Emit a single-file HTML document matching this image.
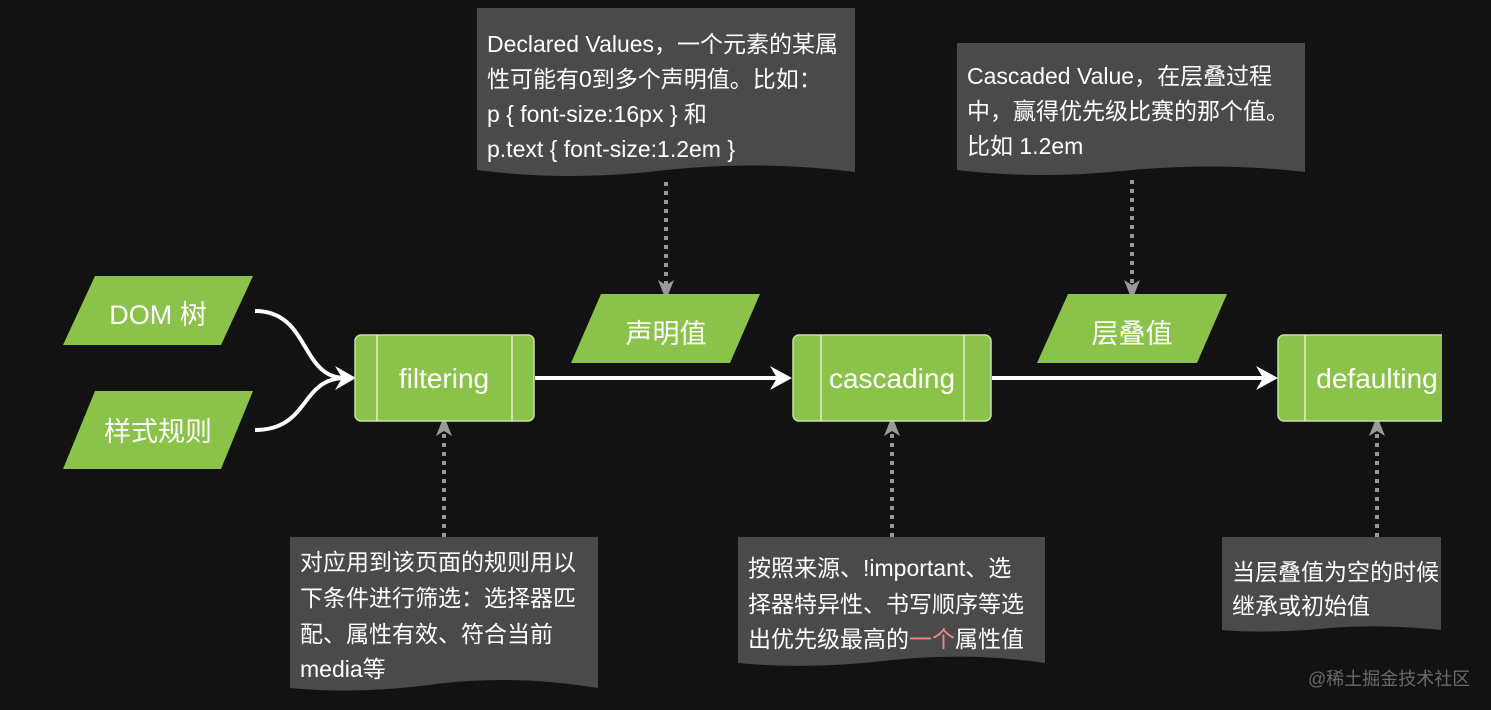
<!DOCTYPE html>
<html><head><meta charset="utf-8"><style>
html,body{margin:0;padding:0;background:#121212;}
svg{display:block}
text{font-family:"Liberation Sans","Noto Sans CJK SC",sans-serif;}
</style></head><body>
<svg width="1491" height="710" viewBox="0 0 1491 710" xmlns="http://www.w3.org/2000/svg">
<defs>
<marker id="ga" markerWidth="20" markerHeight="20" refX="10" refY="10" orient="auto" markerUnits="userSpaceOnUse"><path d="M0,2 L20,10 L0,18 L5,10z" fill="#999"/></marker>
</defs>
<rect width="1491" height="710" fill="#121212"/>
<g fill="#4a4a4a">
<path d="M477,8 H855 V172 Q760,160 666,170 Q570,182 477,170 Z"/>
<path d="M957,43 H1305 V172 Q1220,162 1132,170 Q1040,180 957,170 Z"/>
<path d="M290,537 H598 V688 Q520,675 444,683 Q360,695 290,688 Z"/>
<path d="M738,537 H1045 V663 Q970,652 892,660 Q810,670 738,663 Z"/>
<path d="M1222,537 H1441 V630 Q1380,624 1330,628 Q1270,634 1222,630 Z"/>
</g>
<g fill="#fff" font-size="23">
<text x="487" y="52">Declared Values，一个元素的某属</text>
<text x="487" y="87">性可能有0到多个声明值。比如：</text>
<text x="487" y="122">p { font-size:16px } 和</text>
<text x="487" y="157">p.text { font-size:1.2em }</text>
<text x="967" y="84">Cascaded Value，在层叠过程</text>
<text x="967" y="119">中，赢得优先级比赛的那个值。</text>
<text x="967" y="154">比如 1.2em</text>
<text x="300" y="570">对应用到该页面的规则用以</text>
<text x="300" y="606">下条件进行筛选：选择器匹</text>
<text x="300" y="642">配、属性有效、符合当前</text>
<text x="300" y="677">media等</text>
<text x="748" y="576">按照来源、!important、选</text>
<text x="748" y="612">择器特异性、书写顺序等选</text>
<text x="748" y="647">出优先级最高的<tspan fill="#e88">一个</tspan>属性值</text>
<text x="1232" y="580">当层叠值为空的时候</text>
<text x="1232" y="614">继承或初始值</text>
</g>
<g stroke="#999" stroke-width="4" stroke-dasharray="4,5" fill="none">
<line x1="666" y1="182" x2="666" y2="290" marker-end="url(#ga)"/>
<line x1="1132" y1="180" x2="1132" y2="290" marker-end="url(#ga)"/>
<line x1="444" y1="537" x2="444" y2="426" marker-end="url(#ga)"/>
<line x1="892" y1="537" x2="892" y2="426" marker-end="url(#ga)"/>
<line x1="1377" y1="537" x2="1377" y2="426" marker-end="url(#ga)"/>
</g>
<g stroke="#fff" stroke-width="4" fill="none">
<path d="M255,311 C310,311 300,378 345,378"/>
<path d="M255,430 C310,430 300,378 345,378"/>
<line x1="535" y1="378" x2="780" y2="378"/>
<line x1="992" y1="378" x2="1265" y2="378"/>
</g>
<g fill="#fff">
<path d="M335,366 L356,378 L335,390 L342,378z"/>
<path d="M770,366 L792,378 L770,390 L777,378z"/>
<path d="M1256,366 L1278,378 L1256,390 L1263,378z"/>
</g>
<g fill="#8bc34a">
<polygon points="95,276 253,276 221,345 63,345"/>
<polygon points="95,391 253,391 221,469 63,469"/>
<polygon points="601,294 760,294 730,363 571,363"/>
<polygon points="1068,294 1227,294 1197,363 1037,363"/>
</g>
<g fill="#fff" font-size="27" text-anchor="middle">
<text x="158" y="324">DOM 树</text>
<text x="158" y="441">样式规则</text>
<text x="666" y="343">声明值</text>
<text x="1132" y="343">层叠值</text>
</g>
<g fill="#8bc34a" stroke="#c5e1a5" stroke-width="1.5">
<rect x="355" y="335" width="179" height="86" rx="6"/>
<rect x="793" y="335" width="198" height="86" rx="6"/>
<rect x="1278" y="335" width="180" height="86" rx="6"/>
</g>
<g stroke="#e0f0c8" stroke-width="1.5">
<line x1="377" y1="335" x2="377" y2="421"/><line x1="512" y1="335" x2="512" y2="421"/>
<line x1="821" y1="335" x2="821" y2="421"/><line x1="964" y1="335" x2="964" y2="421"/>
<line x1="1305" y1="335" x2="1305" y2="421"/>
</g>
<g fill="#fff" font-size="28" text-anchor="middle">
<text x="444" y="388">filtering</text>
<text x="892" y="388">cascading</text>
<text x="1377" y="388">defaulting</text>
</g>
<rect x="1442" y="0" width="49" height="710" fill="#121212"/>
<text x="1308" y="685" fill="#6a6a6a" font-size="18">@稀土掘金技术社区</text>
</svg>
</body></html>
